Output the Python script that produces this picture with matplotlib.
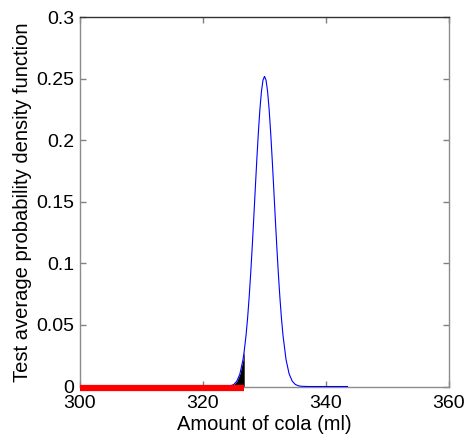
import matplotlib
matplotlib.use("Agg")
import matplotlib.pyplot as plt
import matplotlib.transforms as mtransforms
import numpy as np

# Curve (amount in ml, density)
cola_ml = [316.0, 318.0, 320.0, 322.0, 323.0, 323.5, 324.0, 324.5, 325.0, 325.5,
           326.0, 326.5, 326.7, 327.0, 327.25, 327.5, 327.75, 328.0, 328.25, 328.5,
           328.75, 329.0, 329.25, 329.5, 329.75, 330.0, 330.25, 330.5, 330.75, 331.0,
           331.25, 331.5, 331.75, 332.0, 332.25, 332.5, 332.75, 333.0, 333.5, 334.0,
           334.5, 335.0, 335.5, 336.0, 337.0, 338.0, 340.0, 342.0, 343.5]
density = [0.0, 0.0, 0.0, 0.0, 0.00001, 0.00006, 0.0002, 0.0006, 0.0017, 0.0044,
           0.0103, 0.0218, 0.0288, 0.0418, 0.0557, 0.0724, 0.0917, 0.1134, 0.1368, 0.1609,
           0.1845, 0.2064, 0.2252, 0.2397, 0.2489, 0.2520, 0.2489, 0.2397, 0.2252, 0.2064,
           0.1845, 0.1609, 0.1368, 0.1134, 0.0917, 0.0724, 0.0557, 0.0418, 0.0218, 0.0103,
           0.0044, 0.0017, 0.0006, 0.0002, 0.00001, 0.0, 0.0, 0.0, 0.0]
cutoff_ml = 326.7
red_start, red_end = 300.0, 326.7

x_ticks = [300, 320, 340, 360]
y_ticks = [0, 0.05, 0.1, 0.15, 0.2, 0.25, 0.3]
y_tick_labels = ["0", "0.05", "0.1", "0.15", "0.2", "0.25", "0.3"]

plt.rcParams['font.family'] = ['Liberation Sans', 'DejaVu Sans']

fig = plt.figure(figsize=(4.69, 4.34), dpi=100)
ax = fig.add_axes([0.1706, 0.1094, 0.7868, 0.8507])

x = np.array(cola_ml)
y = np.array(density)
mask = x <= cutoff_ml
ax.fill_between(x[mask], 0, y[mask], color='black', linewidth=0, zorder=2)
ax.plot(x, y, color='#0000ff', linewidth=0.8, zorder=3)
shift = mtransforms.ScaledTranslation(0, -1.5 / 100, fig.dpi_scale_trans)
ax.plot([red_start, red_end], [0, 0], color='#ff0000', linewidth=4.5,
        solid_capstyle='butt', clip_on=False, zorder=4,
        transform=ax.transData + shift)

ax.set_xlim(300, 360)
ax.set_ylim(0, 0.3)
ax.set_xticks(x_ticks)
ax.set_xticklabels([str(t) for t in x_ticks])
ax.set_yticks(y_ticks)
ax.set_yticklabels(y_tick_labels)
ax.tick_params(direction='in', length=4, width=1, color='#808080',
               labelsize=14, top=True, right=True, pad=4)
ax.tick_params(axis='x', pad=6)
for side in ['left', 'bottom', 'right']:
    ax.spines[side].set_color('#8c8c8c')
    ax.spines[side].set_linewidth(1.0)
ax.spines['top'].set_color('#333333')
ax.spines['top'].set_linewidth(1.0)

ax.set_xlabel("Amount of cola (ml)", fontsize=14.5, labelpad=2)
ax.set_ylabel("Test average probability density function", fontsize=14.5, labelpad=3)

fig.savefig("out.png", dpi=100)
